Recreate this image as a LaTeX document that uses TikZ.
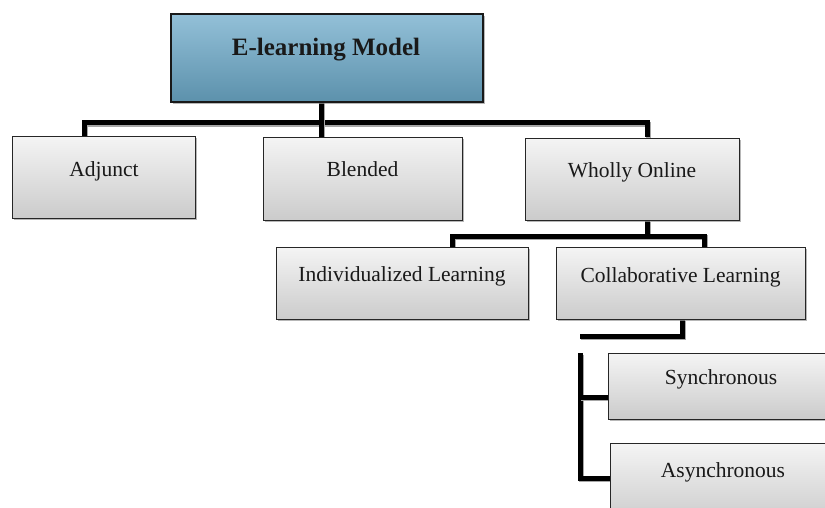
\documentclass[tikz,border=0pt]{standalone}
\usepackage{fontspec}
\setmainfont{Liberation Serif}
\usetikzlibrary{shadows}
\definecolor{titletop}{HTML}{93C0D8}
\definecolor{titlebot}{HTML}{5C91AC}
\definecolor{boxtop}{HTML}{F4F4F4}
\definecolor{boxbot}{HTML}{CBCBCB}
\tikzset{
  box/.style={rectangle, draw=black!85, line width=1.1pt, top color=boxtop, bottom color=boxbot,
    anchor=north west, inner sep=0pt,
    drop shadow={shadow xshift=1.6pt, shadow yshift=-1.6pt, fill=black!40, opacity=0.7}},
  titlebox/.style={box, draw=black!90, line width=2pt, top color=titletop, bottom color=titlebot},
  txt/.style={anchor=base, inner sep=0pt, font=\fontsize{21.5}{24}\selectfont, text=black!90},
  titletxt/.style={txt, font=\fontsize{25}{28}\selectfont\bfseries},
  conn/.style={line width=5pt, black, line cap=butt, line join=miter,
    preaction={draw=black!35, line width=5pt, transform canvas={shift={(1.4pt,-1.6pt)}}}}
}
\begin{document}
\begin{tikzpicture}[x=1pt,y=-1pt]
\useasboundingbox (0,0) rectangle (825,508);
\clip (0,0) rectangle (825,508);
\fill[white] (0,0) rectangle (825,508);

% coordinates for connector junctions
\coordinate (bL) at (84,123);
\coordinate (bM) at (321,123);
\coordinate (bR) at (647,123);
\coordinate (cL) at (452,236);
\coordinate (cM) at (647,236);
\coordinate (cR) at (704,236);
\coordinate (dR) at (682,336);
\coordinate (dL) at (580,336);
\coordinate (eT) at (580,353);
\coordinate (eS) at (580,397);
\coordinate (eB) at (580,478);

% connectors (drawn first, boxes on top)
\draw[conn] (84,136) -- (bL) -- (bR) -- (647,137);
\draw[conn] (321,101) -- (321,137);
\draw[conn] (647,220) -- (cM);
\draw[conn] (452,247) -- (cL) -- (cR) -- (704,247);
\draw[conn] (682,319) -- (dR) -- (dL);
\draw[conn] (eT) -- (eB) -- (611,478);
\draw[conn] (eS) -- (609,397);

% boxes
\node[titlebox, minimum width=312pt, minimum height=88pt] (top) at (170,13) {};
\node[box, minimum width=183pt, minimum height=82pt] (adj) at (12,136) {};
\node[box, minimum width=199pt, minimum height=83pt] (ble) at (263,137) {};
\node[box, minimum width=214pt, minimum height=82pt] (who) at (525,138) {};
\node[box, minimum width=252pt, minimum height=72pt] (ind) at (276,247) {};
\node[box, minimum width=249pt, minimum height=72pt] (col) at (556,247) {};
\node[box, minimum width=226pt, minimum height=66pt] (syn) at (608,353) {};
\node[box, minimum width=226pt, minimum height=80pt] (asy) at (610,443) {};

% texts
\node[titletxt] (topt) at (326,56) {E-learning Model};
\node[txt] (adjt) at (104,177) {Adjunct};
\node[txt] (blet) at (362.5,177) {Blended};
\node[txt] (whot) at (632,178) {Wholly Online};
\node[txt] (indt) at (402,281) {Individualized Learning};
\node[txt] (colt) at (680.5,282) {Collaborative Learning};
\node[txt] (synt) at (721,384) {Synchronous};
\node[txt] (asyt) at (723,477) {Asynchronous};
\end{tikzpicture}
\end{document}
